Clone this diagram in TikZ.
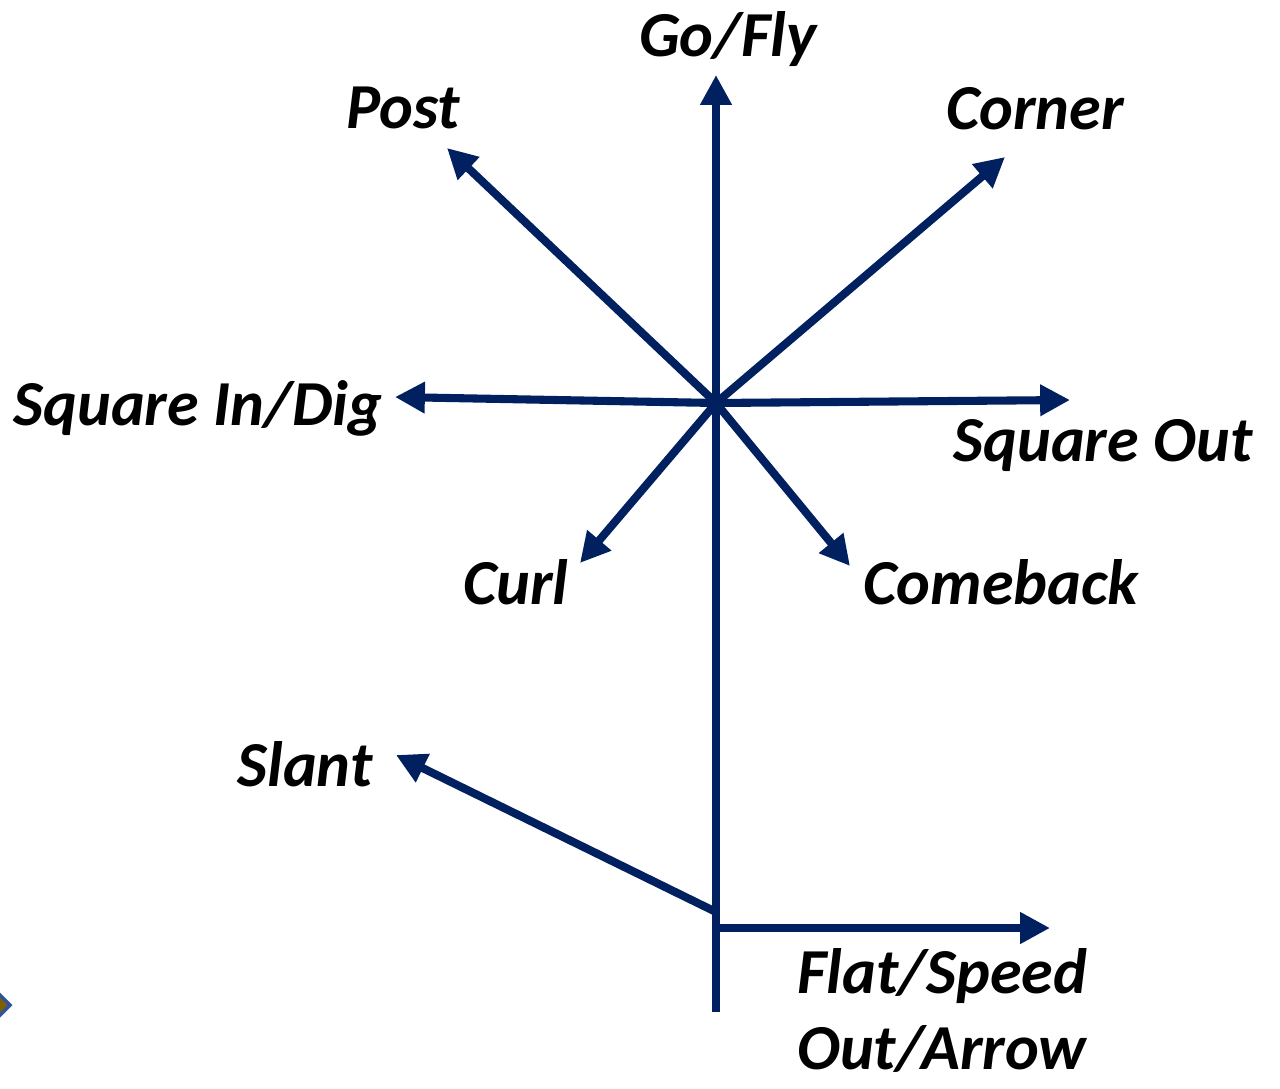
\documentclass[tikz,border=0pt]{standalone}
\usepackage{fontspec}
\setmainfont{Carlito}
\usepackage{xcolor}
\usetikzlibrary{arrows.meta}
\definecolor{mNavy}{HTML}{002060}
\definecolor{mGold}{HTML}{7F6000}
\definecolor{mEdge}{HTML}{2F5597}

\begin{document}
\begin{tikzpicture}[x=0.02cm, y=-0.02cm,
  route/.style={draw=mNavy, line width=4.6pt, -{Triangle[length=17pt, width=17pt]}},
  lbl/.style={font=\fontsize{36.5}{42.7}\selectfont\bfseries\itshape, inner sep=0pt, anchor=base}]
\useasboundingbox (0,0) rectangle (1280,1088);
\begin{scope}
\clip (0,0) rectangle (1280,1088);
\fill[mGold, draw=mEdge, line width=2pt] (10,1005) -- (-5,990) -- (-20,1005) -- (-5,1020) -- cycle;
\end{scope}
\coordinate (hub) at (716,403);
\coordinate (base) at (716,1012);
\coordinate (split) at (716,912);
\coordinate (flatStart) at (716,928);
\coordinate (goTip) at (716,75);
\coordinate (postTip) at (447,148);
\coordinate (cornerTip) at (1005,157);
\coordinate (digTip) at (395,397);
\coordinate (outTip) at (1070,400);
\coordinate (curlTip) at (580,563);
\coordinate (backTip) at (850,566);
\coordinate (slantTip) at (396,755);
\coordinate (flatTip) at (1050,928);
\draw[route] (base) -- (goTip);
\draw[route] (hub) -- (postTip);
\draw[route] (hub) -- (cornerTip);
\draw[route] (hub) -- (digTip);
\draw[route] (hub) -- (outTip);
\draw[route] (hub) -- (curlTip);
\draw[route] (hub) -- (backTip);
\draw[route] (split) -- (slantTip);
\draw[route] (flatStart) -- (flatTip);
\node[lbl] (go) at (728,57) {Go/Fly};
\node[lbl] (post) at (403,128) {Post};
\node[lbl] (corner) at (1035,130) {Corner};
\node[lbl] (dig) at (198,425) {Square In/Dig};
\node[lbl] (out) at (1103,461) {Square Out};
\node[lbl] (curl) at (516,604) {Curl};
\node[lbl] (back) at (1001,604) {Comeback};
\node[lbl] (slant) at (305,786) {Slant};
\node[lbl, anchor=base west, align=left] (flat) at (797,1069) {Flat/Speed\\Out/Arrow};
\end{tikzpicture}
\end{document}
